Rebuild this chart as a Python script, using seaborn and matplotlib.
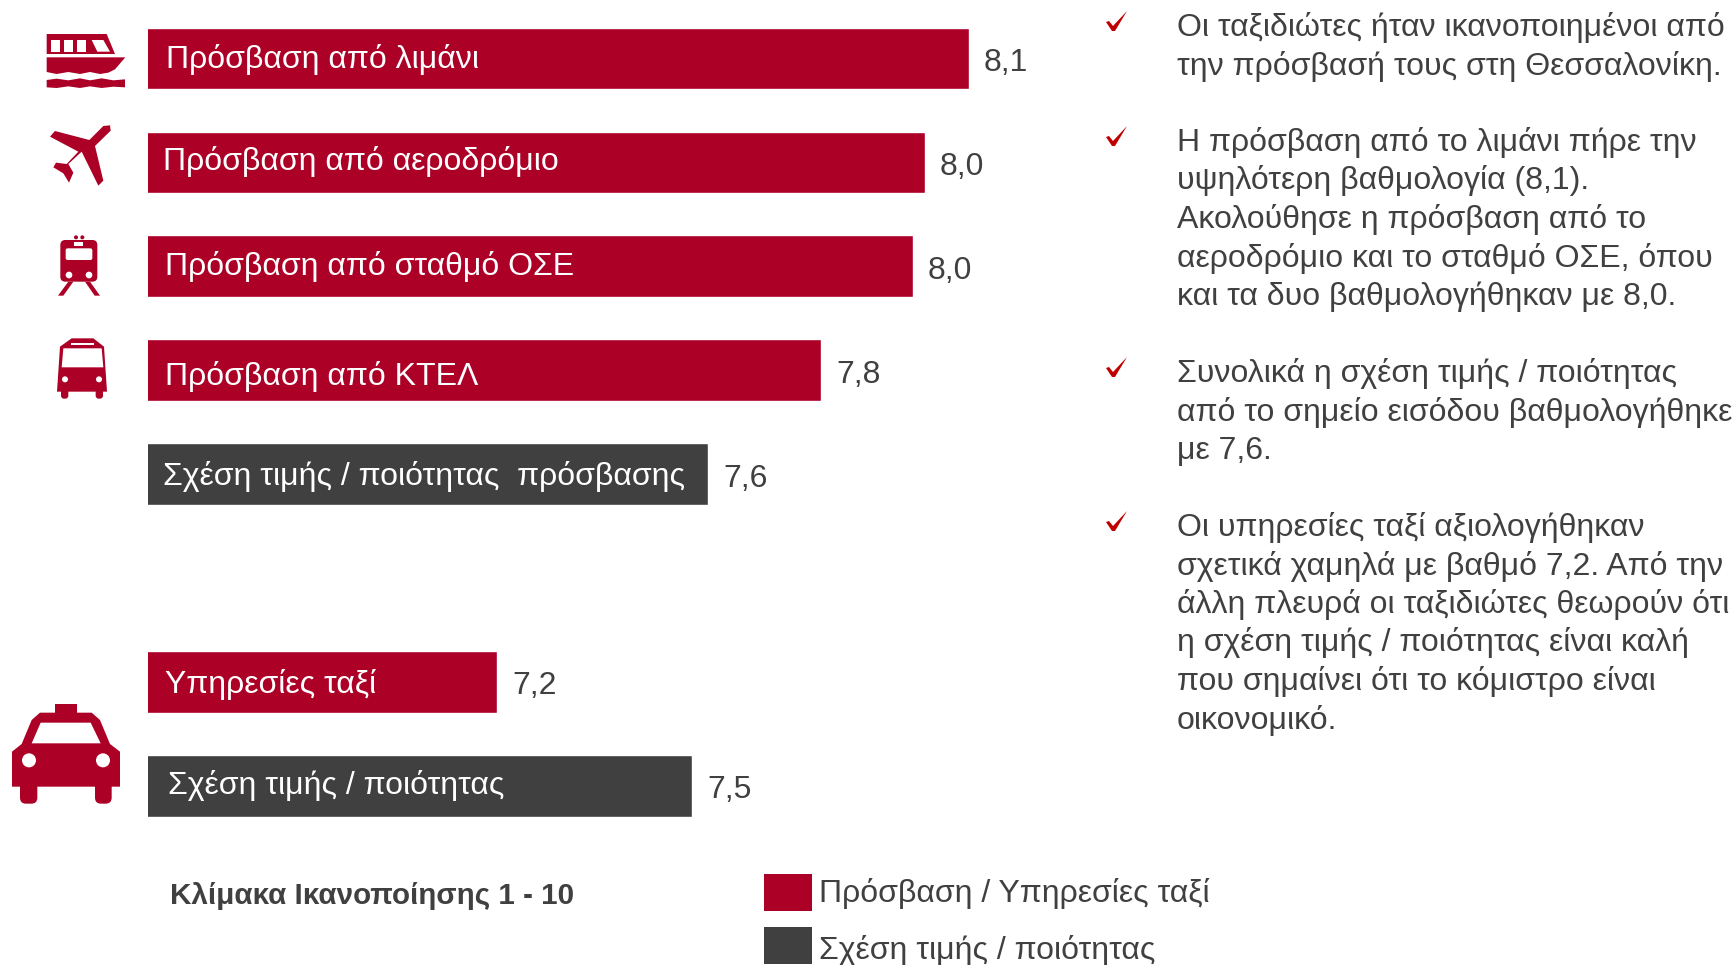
import numpy as np
import pandas as pd
import seaborn as sns
import matplotlib.pyplot as plt
from matplotlib.patches import Polygon, Circle, Rectangle, FancyBboxPatch

# bars do not share a scale with their printed scores, so lengths are read off separately
categories = ['Πρόσβαση από λιμάνι', 'Πρόσβαση από αεροδρόμιο', 'Πρόσβαση από σταθμό ΟΣΕ',
              'Πρόσβαση από ΚΤΕΛ', 'Σχέση τιμής / ποιότητας  πρόσβασης', ' ',
              'Υπηρεσίες ταξί', 'Σχέση τιμής / ποιότητας']
bar_lengths = [8.10, 8.017, 7.994, 7.818, 7.603, np.nan, 7.20, 7.572]
score_labels = ['8,1', '8,0', '8,0', '7,8', '7,6', '', '7,2', '7,5']
kinds = ['Πρόσβαση / Υπηρεσίες ταξί'] * 4 + ['Σχέση τιμής / ποιότητας'] * 2 + \
        ['Πρόσβαση / Υπηρεσίες ταξί', 'Σχέση τιμής / ποιότητας']

# small hand nudges of the labels inside the bars, in pixels
name_dx = [18, 15, 17, 17, 15, 0, 17, 20]
name_dy = [1, -1, 0, 6, 2, 0, 3, 0]

bullets = [
    ['Οι ταξιδιώτες ήταν ικανοποιημένοι από',
     'την πρόσβασή τους στη Θεσσαλονίκη.'],
    ['Η πρόσβαση από το λιμάνι πήρε την',
     'υψηλότερη βαθμολογία (8,1).',
     'Ακολούθησε η πρόσβαση από το',
     'αεροδρόμιο και το σταθμό ΟΣΕ, όπου',
     'και τα δυο βαθμολογήθηκαν με 8,0.'],
    ['Συνολικά η σχέση τιμής / ποιότητας',
     'από το σημείο εισόδου βαθμολογήθηκε',
     'με 7,6.'],
    ['Οι υπηρεσίες ταξί αξιολογήθηκαν',
     'σχετικά χαμηλά με βαθμό 7,2. Από την',
     'άλλη πλευρά οι ταξιδιώτες θεωρούν ότι',
     'η σχέση τιμής / ποιότητας είναι καλή',
     'που σημαίνει ότι το κόμιστρο είναι',
     'οικονομικό.'],
]
bullet_first_baseline = [36, 151, 382, 536]
bullet_tick_top = [11, 126, 357, 511]

RED = '#AC0027'
DARK = '#404040'
TEXT = '#404040'
W, H = 1735, 965

sns.set_style('white')
plt.rcParams['font.family'] = ['Liberation Sans', 'DejaVu Sans']

df = pd.DataFrame({'category': categories, 'length': bar_lengths, 'kind': kinds})

fig = plt.figure(figsize=(W / 100, H / 100), dpi=100)
ax = fig.add_axes([148 / W, 1 - 837.6 / H, 952 / W, 831 / H])
sns.barplot(data=df, y='category', x='length', hue='kind', order=categories,
            palette=[RED, DARK], saturation=1, dodge=False, width=0.595, legend=False, ax=ax)
ax.set_xlim(6.533, 8.351)
ax.set_ylim(7.5, -0.5)
ax.axis('off')

for i, (name, length, score) in enumerate(zip(categories, bar_lengths, score_labels)):
    if not score:
        continue
    ax.annotate(score, (length, i), xytext=(15, -4.5), textcoords='offset pixels',
                va='center', fontsize=23, color=TEXT)
    ax.annotate(name, (6.533, i), xytext=(name_dx[i], -name_dy[i]), textcoords='offset pixels',
                va='center', fontsize=23, color='white')

# overlay in pixel coordinates for the icons and the text column
over = fig.add_axes([0, 0, 1, 1], facecolor='none')
over.set_xlim(0, W)
over.set_ylim(H, 0)
over.axis('off')


def poly(pts, ox, oy, color=RED):
    over.add_patch(Polygon([(x / 3 + ox, y / 3 + oy) for x, y in pts], closed=True,
                           fc=color, ec='none'))


def dot(x, y, r, ox, oy, color='white'):
    over.add_patch(Circle((x / 3 + ox, y / 3 + oy), r / 3, fc=color, ec='none'))


def rbox(x0, y0, x1, y1, ox, oy, color=RED, rad=3):
    over.add_patch(FancyBboxPatch((x0 / 3 + ox + rad, y0 / 3 + oy + rad),
                                  (x1 - x0) / 3 - 2 * rad, (y1 - y0) / 3 - 2 * rad,
                                  boxstyle='round,pad=%s' % rad, fc=color, ec='none'))


# ship
ox, oy = 0, 10
poly([(140, 72), (320, 72), (345, 132), (140, 132)], ox, oy)
for x0, x1 in [(152, 180), (192, 220), (232, 258)]:
    poly([(x0, 90), (x1, 90), (x1, 125), (x0, 125)], ox, oy, 'white')
poly([(275, 90), (310, 90), (330, 125), (292, 125)], ox, oy, 'white')
poly([(140, 142), (376, 142), (345, 178), (325, 188), (300, 192), (270, 186), (240, 192),
      (205, 186), (170, 192), (140, 186)], ox, oy)
poly([(140, 210), (170, 206), (205, 211), (240, 205), (270, 211), (305, 205), (340, 211),
      (375, 208), (375, 232), (340, 230), (305, 234), (270, 229), (240, 234), (205, 229),
      (170, 234), (140, 232)], ox, oy)

# plane
poly([(330, 346), (332, 362), (285, 408), (310, 512), (295, 527), (245, 425), (205, 462),
      (220, 488), (207, 518), (190, 490), (160, 472), (168, 458), (200, 462), (235, 425),
      (150, 380), (165, 363), (268, 390), (310, 348)], ox, oy)

# train
rbox(181, 690, 292, 815, ox, oy, rad=5)
rbox(197, 715, 277, 750, ox, oy, 'white', rad=2)
over.add_patch(Rectangle((222 / 3, 697 / 3 + oy), 28 / 3, 11 / 3, fc='white', ec='none'))
dot(207, 795, 10, ox, oy)
dot(267, 795, 10, ox, oy)
dot(228, 682, 6, ox, oy, RED)
dot(247, 682, 6, ox, oy, RED)
poly([(205, 815), (220, 815), (190, 857), (174, 857)], ox, oy)
poly([(255, 815), (270, 815), (300, 857), (284, 857)], ox, oy)

# bus
poly([(171, 1145), (180, 1010), (215, 985), (280, 985), (312, 1010), (321, 1145)], ox, oy)
poly([(190, 1015), (305, 1015), (310, 1072), (185, 1072)], ox, oy, 'white')
over.add_patch(Rectangle((213 / 3, 998 / 3 + oy), 69 / 3, 6 / 3, fc='white', ec='none'))
dot(195, 1108, 9, ox, oy)
dot(297, 1108, 9, ox, oy)
rbox(183, 1135, 205, 1166, ox, oy, rad=3)
rbox(287, 1135, 309, 1166, ox, oy, rad=3)

# taxi
ox, oy = 0, 640
poly([(165, 192), (232, 192), (232, 225), (165, 225)], ox, oy)
poly([(36, 440), (36, 335), (65, 312), (95, 240), (120, 218), (275, 218), (300, 240),
      (330, 312), (360, 335), (360, 440)], ox, oy)
poly([(95, 310), (122, 248), (272, 248), (302, 310)], ox, oy, 'white')
dot(87, 361, 21, ox, oy)
dot(309, 361, 21, ox, oy)
rbox(60, 420, 112, 491, ox, oy, rad=6)
rbox(285, 420, 335, 491, ox, oy, rad=6)

# text column with ticks
for lines, base, top in zip(bullets, bullet_first_baseline, bullet_tick_top):
    over.add_patch(Polygon([(1106, top + 11), (1109, top + 10), (1113, top + 15), (1127, top),
                            (1115, top + 20), (1112, top + 20)], closed=True, fc='#C00000', ec='none'))
    for j, line in enumerate(lines):
        over.text(1177, base + j * 38.5, line, fontsize=23, color=TEXT, va='baseline')

# legend and scale note
over.text(170, 904, 'Κλίμακα Ικανοποίησης 1 - 10', fontsize=21.3, fontweight='bold', color=TEXT, va='baseline')
over.add_patch(Rectangle((763.5, 874), 48, 37, fc=RED, ec='none'))
over.add_patch(Rectangle((763.5, 927), 48, 37, fc=DARK, ec='none'))
over.text(819, 902, 'Πρόσβαση / Υπηρεσίες ταξί', fontsize=23, color=TEXT, va='baseline')
over.text(819, 959, 'Σχέση τιμής / ποιότητας', fontsize=23, color=TEXT, va='baseline')

fig.savefig('out.png', dpi=100)
